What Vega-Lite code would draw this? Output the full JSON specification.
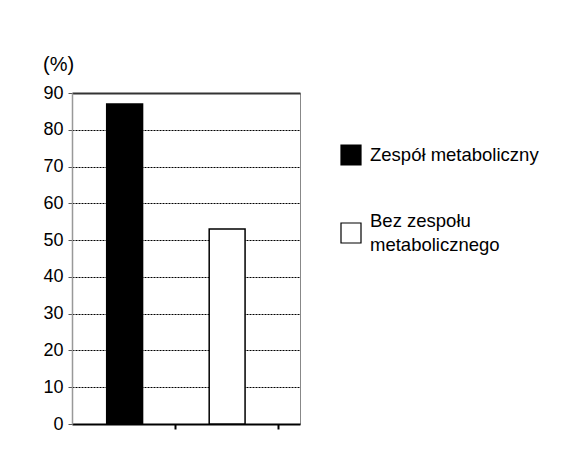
{
  "$schema": "https://vega.github.io/schema/vega-lite/v6.json",
  "autosize": "none",
  "padding": {"left": 72, "top": 93, "right": 270, "bottom": 44},
  "width": 228,
  "height": 331,
  "background": "white",
  "title": {
    "text": "(%)",
    "anchor": "start",
    "frame": "bounds",
    "font": "Liberation Sans",
    "fontSize": 20,
    "fontWeight": "normal",
    "color": "black",
    "offset": 9
  },
  "config": {
    "view": {"stroke": "#888", "strokeWidth": 1},
    "font": "Liberation Sans"
  },
  "data": {
    "values": [
      {"grupa": "Zespół metaboliczny", "procent": 87},
      {"grupa": "Bez zespołu metabolicznego", "procent": 53}
    ]
  },
  "mark": {"type": "bar", "stroke": "black", "strokeWidth": 1.5, "width": {"band": 0.35}},
  "encoding": {
    "x": {
      "field": "grupa",
      "type": "nominal",
      "sort": null,
      "scale": {"paddingInner": 0, "paddingOuter": 0.1122, "align": 0.06},
      "axis": {
        "title": null,
        "labels": false,
        "bandPosition": 1,
        "domainColor": "black",
        "domainWidth": 2,
        "tickColor": "black",
        "tickWidth": 2,
        "tickSize": 5,
        "grid": false
      }
    },
    "y": {
      "field": "procent",
      "type": "quantitative",
      "scale": {"domain": [0, 90], "nice": false},
      "axis": {
        "title": null,
        "values": [0, 10, 20, 30, 40, 50, 60, 70, 80, 90],
        "labelFont": "Liberation Sans",
        "labelFontSize": 18,
        "labelColor": "black",
        "labelPadding": 5,
        "tickSize": 4,
        "tickColor": "#555",
        "domainColor": "#999",
        "domainWidth": 1.5,
        "grid": true,
        "gridColor": {"condition": {"test": "datum.value === 90", "value": "#333"}, "value": "black"},
        "gridDash": {"condition": {"test": "datum.value === 90", "value": []}, "value": [2, 1]},
        "gridWidth": {"condition": {"test": "datum.value === 90", "value": 2}, "value": 1},
        "gridOpacity": 1
      }
    },
    "color": {
      "field": "grupa",
      "type": "nominal",
      "sort": null,
      "scale": {"domain": ["Zespół metaboliczny", "Bez zespołu metabolicznego"], "range": ["black", "white"]},
      "legend": {
        "title": null,
        "orient": "none",
        "legendX": 268,
        "legendY": 51,
        "symbolType": "square",
        "symbolSize": 400,
        "symbolStrokeColor": "black",
        "symbolStrokeWidth": 1.2,
        "symbolOpacity": 1,
        "labelFont": "Liberation Sans",
        "labelFontSize": 18.5,
        "labelColor": "black",
        "labelOffset": 8,
        "labelLimit": 300,
        "rowPadding": 44,
        "labelExpr": "datum.label === 'Bez zespołu metabolicznego' ? ['Bez zespołu', 'metabolicznego'] : datum.label",
        "encode": {
          "labels": {
            "update": {
              "lineHeight": {"value": 24},
              "dy": {"signal": "datum.label === 'Bez zespołu metabolicznego' ? -12 : 0"}
            }
          }
        }
      }
    }
  }
}
